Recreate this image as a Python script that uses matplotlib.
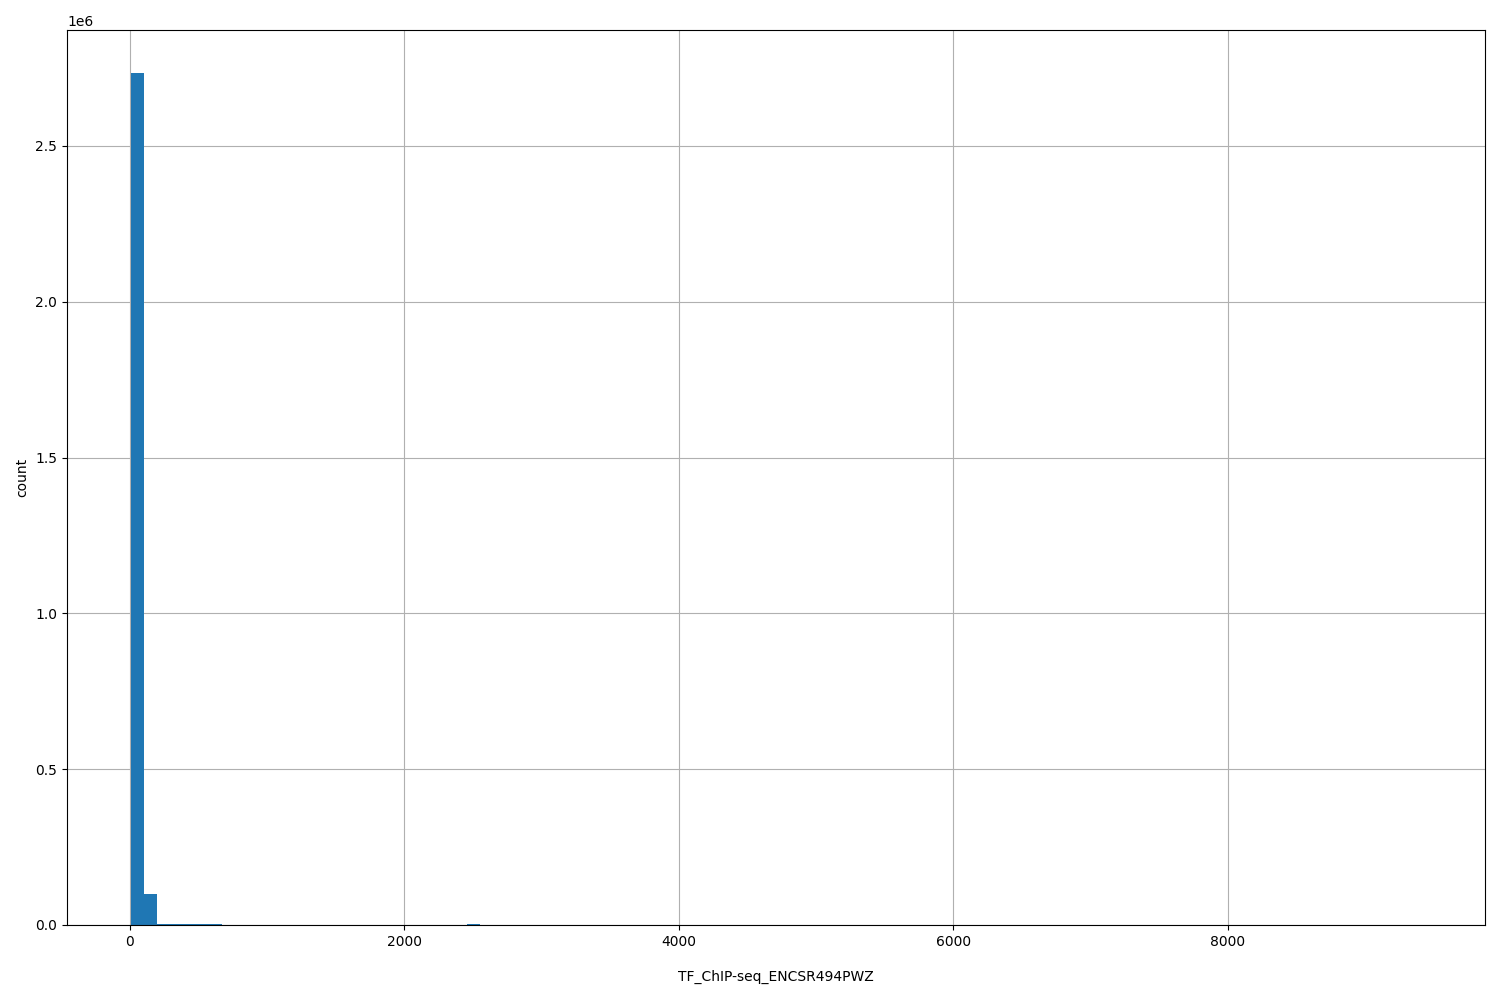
import numpy as np
import matplotlib.pyplot as plt

# histogram bins (100 bins between min and max of the signal)
x_min = 11.0
x_max = 9404.0
n_bins = 100
# nonzero bin counts: bin index -> count
bin_index = [0, 1, 2, 3, 4, 5, 6, 26, 99]
bin_count = [2735000, 101000, 4000, 3500, 3000, 2500, 2000, 3500, 30]

edges = np.linspace(x_min, x_max, n_bins + 1)
counts = np.zeros(n_bins)
counts[bin_index] = bin_count
centers = (edges[:-1] + edges[1:]) / 2

fig = plt.figure(figsize=(15, 10), dpi=100)
ax = fig.add_axes([67 / 1500, 75 / 1000, (1485 - 67) / 1500, (925 - 30) / 1000])
ax.hist(centers, bins=edges, weights=counts, color='#1f77b4')
ax.grid(True)
ax.set_axisbelow(True)
ax.set_xlabel('TF_ChIP-seq_ENCSR494PWZ', labelpad=15)
ax.set_ylabel('count')
plt.savefig('out.png')
